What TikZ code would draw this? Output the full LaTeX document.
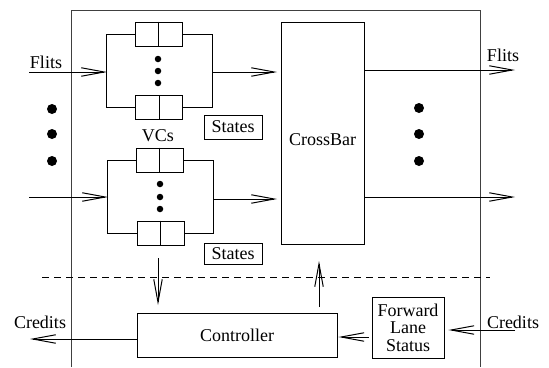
\documentclass[tikz,border=0pt]{standalone}
\usepackage{fontspec}
\setmainfont{Liberation Serif}
\newfontfamily\tms{Liberation Serif}
\usetikzlibrary{arrows.meta}
\begin{document}
\begin{tikzpicture}[x=1pt,y=-1pt,
  every node/.style={font=\tms\fontsize{18}{17.5}\selectfont, inner sep=0pt},
  box/.style={draw, line width=0.75pt},
  buf/.style={box, minimum width=47pt, minimum height=24pt},
  ln/.style={line width=1pt},
  arr/.style={ln, -{Straight Barb[length=23pt,width=8.5pt,line width=1pt]}},
  bigdot/.style={fill, circle, minimum size=10pt},
  smalldot/.style={fill, circle, minimum size=6.5pt},
  frame/.style={draw=black!75, line width=0.75pt},
]
\useasboundingbox (0,0) rectangle (549,367);

% outer frame
\coordinate (fbl) at (71,367);
\coordinate (ftl) at (71,10);
\coordinate (ftr) at (480,10);
\coordinate (fbr) at (480,367);
\draw[frame] (fbl) -- (ftl) -- (ftr) -- (fbr);

% crossbar
\node[box, minimum width=83pt, minimum height=222pt] (cb) at (322.5,133) {};
\node (cbl) at (322.5,140) {CrossBar};

% top VC group
\node[buf] (b1a) at (158.5,34) {};
\node[buf] (b1b) at (159,107.5) {};
\draw[box] (b1a.north) -- (b1a.south);
\draw[box] (b1b.north) -- (b1b.south);
\draw[ln] (b1a.west) -- ++(-28,0) |- (b1b.west);
\draw[ln] (b1a.east) -- ++(30,0) |- (b1b.east);
\node[smalldot] (v1) at (158,59) {};
\node[smalldot] (v2) at (158,71) {};
\node[smalldot] (v3) at (158,83) {};
\coordinate (in1) at (29,72);
\coordinate (l1) at (107,72);
\coordinate (r1) at (212,72);
\coordinate (o1) at (277,72);
\draw[arr] (in1) -- (l1);
\draw[arr] (r1) -- (o1);
\node (flitsl) at (46,62) {Flits};
\node[box, minimum width=58pt, minimum height=24pt] (st1) at (233,127) {};
\node (st1l) at (233,127) {States};
\node (vcs) at (158,136) {VCs};

% left dots
\node[bigdot] (ld1) at (52,109) {};
\node[bigdot] (ld2) at (52,134) {};
\node[bigdot] (ld3) at (52,161) {};

% bottom VC group
\node[buf] (b2a) at (159.5,160) {};
\node[buf] (b2b) at (160.5,233) {};
\draw[box] (b2a.north) -- (b2a.south);
\draw[box] (b2b.north) -- (b2b.south);
\draw[ln] (b2a.west) -- ++(-28,0) |- (b2b.west);
\draw[ln] (b2a.east) -- ++(30,0) |- (b2b.east);
\node[smalldot] (w1) at (160,184) {};
\node[smalldot] (w2) at (160,197) {};
\node[smalldot] (w3) at (160,209) {};
\coordinate (in2) at (29,197);
\coordinate (l2) at (108,197);
\coordinate (r2) at (213,199);
\coordinate (o2) at (277,199);
\draw[arr] (in2) -- (l2);
\draw[arr] (r2) -- (o2);
\node[box, minimum width=58pt, minimum height=21pt] (st2) at (233,253.5) {};
\node (st2l) at (233,253.5) {States};

% outputs
\coordinate (out1) at (515,70);
\coordinate (out2) at (515,197);
\draw[arr] (cb.east |- out1) -- (out1);
\draw[arr] (cb.east |- out2) -- (out2);
\node (flitsr) at (503,55) {Flits};
\node[bigdot] (rd1) at (419,108) {};
\node[bigdot] (rd2) at (419,134) {};
\node[bigdot] (rd3) at (419,161) {};

% dashed separator
\coordinate (dsa) at (42,277);
\coordinate (dsb) at (490,277);
\draw[line width=0.75pt, dash pattern=on 7pt off 5pt] (dsa) -- (dsb);

% controller
\node[box, minimum width=200pt, minimum height=44pt] (ctl) at (237,335) {Controller};
\coordinate (da) at (158,258);
\coordinate (db) at (158,305);
\draw[arr] (da) -- (db);
\coordinate (ua) at (319,307);
\coordinate (ub) at (319,261);
\draw[arr] (ua) -- (ub);

% forward lane status
\node[box, minimum width=72pt, minimum height=61pt, align=center] (fls) at (408,327.5) {Forward\\Lane\\Status};
\draw[arr] ([xshift=-3pt]fls.west |- 0,337) -- ([xshift=1pt]ctl.east |- 0,337);

% credits
\coordinate (cin) at (515,330);
\draw[arr] (cin) -- ([xshift=4pt]fls.east |- cin);
\node (credr) at (513,322) {Credits};
\coordinate (cout) at (30,339);
\draw[arr] (ctl.west |- cout) -- (cout);
\node (credl) at (40,322) {Credits};
\end{tikzpicture}
\end{document}
